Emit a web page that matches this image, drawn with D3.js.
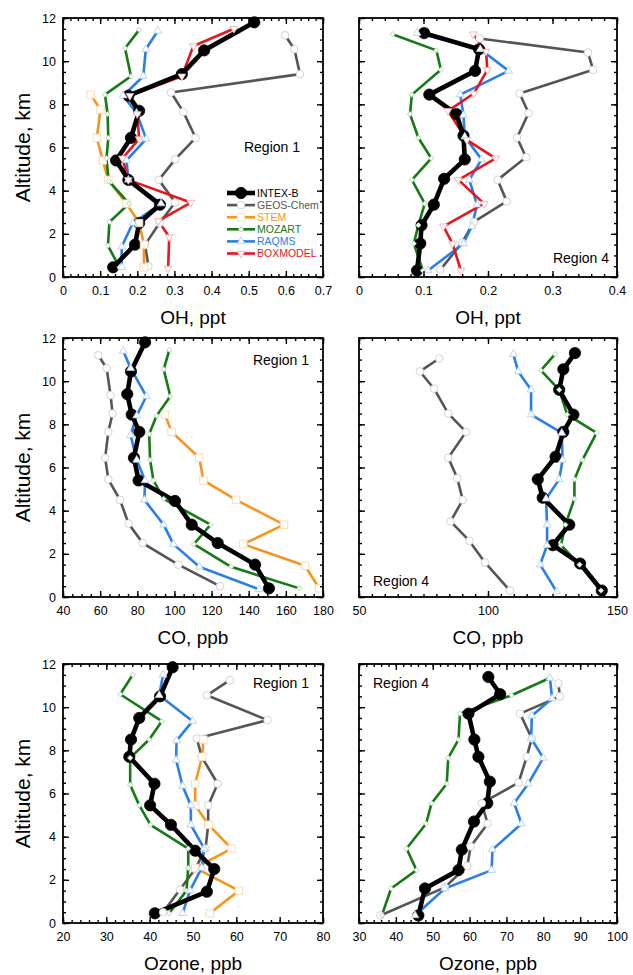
<!DOCTYPE html>
<html>
<head>
<meta charset="utf-8">
<script src="https://cdn.jsdelivr.net/npm/d3@7"></script>
<style>
  body { margin: 0; background: #fff; }
  svg { display: block; }
</style>
</head>
<body>
<svg id="chart" width="633" height="975"></svg>
<script>
'use strict';

// ---- data: [value, altitude km] pairs ----
var OH_R1_INTEXB = [[0.515,11.8],[0.38,10.5],[0.32,9.4],[0.176,8.4],[0.205,7.7],[0.183,6.45],[0.143,5.4],[0.176,4.5],[0.261,3.35],[0.205,2.5],[0.194,1.5],[0.135,0.45]];
var OH_R1_GEOS   = [[0.598,11.2],[0.623,10.55],[0.638,9.4],[0.291,8.55],[0.324,7.65],[0.357,6.45],[0.302,5.45],[0.258,4.5],[0.302,3.45],[0.26,2.5],[0.221,1.5],[0.23,0.5]];
var OH_R1_STEM   = [[0.0745,8.45],[0.101,7.75],[0.091,6.45],[0.107,5.4],[0.122,4.5],[0.171,3.4],[0.205,2.5],[0.218,1.5],[0.218,0.45]];
var OH_R1_MOZART = [[0.205,11.45],[0.167,10.6],[0.183,9.3],[0.113,8.45],[0.12,7.55],[0.122,6.45],[0.117,5.5],[0.123,4.45],[0.178,3.4],[0.125,2.55],[0.121,1.45],[0.152,0.45]];
var OH_R1_RAQMS  = [[0.255,11.4],[0.223,10.55],[0.216,9.3],[0.162,8.4],[0.198,7.6],[0.224,6.4],[0.171,5.4],[0.176,4.5],[0.264,3.4],[0.188,2.5],[0.158,1.4],[0.158,0.45]];
var OH_R1_BOX    = [[0.46,11.5],[0.351,10.7],[0.32,9.3],[0.18,8.4],[0.2,7.55],[0.205,6.4],[0.16,5.5],[0.176,4.5],[0.344,3.45],[0.257,2.6],[0.286,1.85],[0.283,0.4]];

var OH_R4_INTEXB = [[0.101,11.3],[0.186,10.55],[0.18,9.55],[0.109,8.45],[0.151,7.55],[0.162,6.55],[0.164,5.45],[0.132,4.55],[0.116,3.35],[0.097,2.4],[0.095,1.55],[0.09,0.3]];
var OH_R4_GEOS   = [[0.187,11.05],[0.355,10.4],[0.363,9.6],[0.249,8.5],[0.263,7.6],[0.245,6.45],[0.259,5.55],[0.215,4.5],[0.229,3.5],[0.178,2.55],[0.16,1.6],[0.126,0.33]];
var OH_R4_MOZART = [[0.052,11.25],[0.12,10.5],[0.127,9.6],[0.082,8.45],[0.079,7.55],[0.092,6.45],[0.112,5.5],[0.082,4.5],[0.102,3.4],[0.092,2.4],[0.085,1.55],[0.099,0.3]];
var OH_R4_RAQMS  = [[0.09,11.3],[0.188,10.55],[0.232,9.55],[0.157,8.45],[0.162,7.5],[0.164,6.5],[0.19,5.45],[0.171,4.5],[0.183,3.35],[0.175,2.35],[0.162,1.55],[0.107,0.3]];
var OH_R4_BOX    = [[0.177,11.25],[0.197,10.45],[0.199,9.6],[0.178,8.5],[0.138,7.7],[0.167,6.35],[0.212,5.5],[0.154,4.5],[0.194,3.4],[0.131,2.35],[0.145,1.55],[0.158,0.3]];

var CO_R1_INTEXB = [[84.2,11.8],[76.6,10.45],[74.6,9.4],[77,8.45],[81.1,7.65],[78.2,6.45],[80.7,5.4],[100.3,4.45],[109.3,3.35],[123.3,2.5],[143.4,1.5],[150.9,0.4]];
var CO_R1_GEOS   = [[59,11.2],[63.5,10.6],[65.6,9.35],[66.7,8.5],[64.4,7.65],[62.7,6.45],[64.4,5.45],[70.7,4.5],[75.3,3.4],[82.9,2.5],[102.1,1.5],[124.5,0.5]];
var CO_R1_STEM   = [[94.9,8.45],[98.5,7.65],[113.4,6.45],[115.6,5.4],[133.2,4.5],[159,3.35],[137.1,2.45],[170.3,1.45],[178,0.4]];
var CO_R1_MOZART = [[97.3,11.45],[94.2,10.55],[97.8,9.3],[90.4,8.4],[86.4,7.55],[86.9,6.35],[88.7,5.4],[94.2,4.55],[119.5,3.35],[110.5,2.45],[130.5,1.4],[167.3,0.4]];
var CO_R1_RAQMS  = [[72.5,11.4],[76.4,10.6],[84.9,9.3],[79.7,8.4],[76.4,7.5],[79.7,6.35],[84.2,5.4],[83.8,4.5],[94.2,3.35],[99.4,2.45],[113.4,1.4],[145.7,0.35]];

var CO_R4_INTEXB = [[133.7,11.3],[129.2,10.55],[127.6,9.6],[133.1,8.45],[129.2,7.65],[126.2,6.5],[119.3,5.45],[121.2,4.6],[131.5,3.35],[125.1,2.4],[135.7,1.55],[144.1,0.3]];
var CO_R4_GEOS   = [[81.1,11.05],[73.6,10.45],[79.1,9.65],[84.6,8.5],[91.5,7.65],[84.6,6.45],[88.1,5.5],[90.2,4.5],[85.5,3.5],[92.8,2.6],[98.8,1.6],[108.5,0.3]];
var CO_R4_MOZART = [[126,11.25],[120.5,10.5],[127.6,9.6],[130.7,8.45],[142.1,7.6],[136.6,6.35],[133.5,5.45],[133.5,4.55],[130,3.35],[128.3,2.4],[135.5,1.5],[143.8,0.3]];
var CO_R4_RAQMS  = [[109.8,11.25],[111.7,10.45],[116.7,9.6],[116.7,8.45],[128.6,7.6],[128.9,6.35],[127.6,5.45],[122.5,4.55],[122.9,3.35],[122.9,2.4],[120.2,1.5],[126.6,0.25]];

var O3_R1_INTEXB = [[45.3,11.85],[42.4,10.5],[37.6,9.5],[35.7,8.5],[35.3,7.7],[41.1,6.45],[40.1,5.45],[44.9,4.55],[50.5,3.35],[54.9,2.5],[53.2,1.45],[41.2,0.45]];
var O3_R1_GEOS   = [[58.5,11.25],[53.2,10.55],[67.2,9.4],[50.9,8.55],[52,7.7],[55.7,6.45],[53.5,5.45],[53.5,4.55],[52.9,3.45],[50.5,2.5],[47,1.55],[43.1,0.5]];
var O3_R1_STEM   = [[52.4,8.5],[52.1,7.7],[50.5,6.45],[50.5,5.45],[53.6,4.55],[58.9,3.45],[50.5,2.55],[60.6,1.5],[53.9,0.45]];
var O3_R1_MOZART = [[36.1,11.5],[33.2,10.6],[42.8,9.35],[39.9,8.5],[35.5,7.65],[35.5,6.4],[37.6,5.45],[40.2,4.55],[48.9,3.45],[48.9,2.55],[48.5,1.5],[44.5,0.45]];
var O3_R1_RAQMS  = [[43.1,11.5],[42.2,10.55],[49.9,9.35],[46.2,8.45],[46.1,7.55],[47.6,6.35],[49.5,5.45],[49.5,4.55],[52.6,3.45],[52,2.55],[49.3,1.5],[47.6,0.45]];

var O3_R4_INTEXB = [[65.1,11.4],[68.3,10.6],[59.7,9.7],[61.3,8.5],[62.4,7.7],[65.5,6.55],[64.8,5.55],[61.2,4.7],[57.9,3.4],[57,2.45],[47.9,1.6],[46.1,0.35]];
var O3_R4_GEOS   = [[84.1,11.1],[84.5,10.5],[73.7,9.7],[76.9,8.55],[75.5,7.7],[73.3,6.5],[63.3,5.55],[64.9,4.6],[60.3,3.55],[59.4,2.65],[53.3,1.65],[35.8,0.35]];
var O3_R4_MOZART = [[81.8,11.35],[71.4,10.55],[57.4,9.7],[57,8.5],[54.2,7.65],[53.8,6.45],[49.7,5.55],[48.2,4.6],[42.9,3.45],[45.6,2.45],[38.7,1.6],[36.2,0.35]];
var O3_R4_RAQMS  = [[81.8,11.35],[82.4,10.4],[76.9,9.6],[76.7,8.55],[80,7.65],[75.9,6.45],[72.1,5.55],[74.1,4.6],[66.2,3.4],[66,2.45],[53.3,1.6],[45.2,0.35]];

// tick labels
var ALT_TICKS   = [0, 2, 4, 6, 8, 10, 12];
var OH_R1_TICKS = [0, 0.1, 0.2, 0.3, 0.4, 0.5, 0.6, 0.7];
var OH_R4_TICKS = [0, 0.1, 0.2, 0.3, 0.4];
var CO_R1_TICKS = [40, 60, 80, 100, 120, 140, 160, 180];
var CO_R4_TICKS = [50, 100, 150];
var O3_R1_TICKS = [20, 30, 40, 50, 60, 70, 80];
var O3_R4_TICKS = [30, 40, 50, 60, 70, 80, 90, 100];

var MODEL_NAMES = ["INTEX-B", "GEOS-Chem", "STEM", "MOZART", "RAQMS", "BOXMODEL"];

// ---- styles ----
var FONT = "'Liberation Sans', Arial, Helvetica, sans-serif";
var STYLE = {
  "INTEX-B":   { color: "#000000", width: 4.6, sym: d3.symbolCircle,   size: 100, rot: 0,   fill: "#000000", mstroke: "#000000" },
  "GEOS-Chem": { color: "#555555", width: 2.6, sym: d3.symbolCircle,   size: 46,  rot: 0,   fill: "#ffffff", mstroke: "#c8c8c8" },
  "STEM":      { color: "#f7941d", width: 2.6, sym: d3.symbolSquare,   size: 56,  rot: 0,   fill: "#ffffff", mstroke: "#fbd3a8" },
  "MOZART":    { color: "#157a15", width: 2.6, sym: d3.symbolSquare,   size: 14,  rot: 45,  fill: "#ffffff", mstroke: "#a8d0a8" },
  "RAQMS":     { color: "#2a7ee6", width: 2.6, sym: d3.symbolTriangle, size: 26,  rot: 0,   fill: "#ffffff", mstroke: "#a9cbf3" },
  "BOXMODEL":  { color: "#e8161b", width: 2.6, sym: d3.symbolTriangle, size: 26,  rot: 180, fill: "#ffffff", mstroke: "#f5a3a5" }
};

var COLS = [[63, 323], [359, 617]];
var ROWS = [[18, 277], [338, 597], [664, 923]];

var panels = [
  { col: 0, row: 0, domain: [0, 0.7], ticks: OH_R1_TICKS, minor: 0.02, title: "OH, ppt",
    region: { text: "Region 1", x: -23, y: 134, anchor: "end" }, legend: true,
    series: { "INTEX-B": OH_R1_INTEXB, "GEOS-Chem": OH_R1_GEOS, "STEM": OH_R1_STEM, "MOZART": OH_R1_MOZART, "RAQMS": OH_R1_RAQMS, "BOXMODEL": OH_R1_BOX } },
  { col: 1, row: 0, domain: [0, 0.4], ticks: OH_R4_TICKS, minor: 0.02, title: "OH, ppt",
    region: { text: "Region 4", x: -8, y: 245, anchor: "end" },
    series: { "INTEX-B": OH_R4_INTEXB, "GEOS-Chem": OH_R4_GEOS, "MOZART": OH_R4_MOZART, "RAQMS": OH_R4_RAQMS, "BOXMODEL": OH_R4_BOX } },
  { col: 0, row: 1, domain: [40, 180], ticks: CO_R1_TICKS, minor: 5, title: "CO, ppb",
    region: { text: "Region 1", x: -14, y: 27, anchor: "end" },
    series: { "INTEX-B": CO_R1_INTEXB, "GEOS-Chem": CO_R1_GEOS, "STEM": CO_R1_STEM, "MOZART": CO_R1_MOZART, "RAQMS": CO_R1_RAQMS } },
  { col: 1, row: 1, domain: [50, 150], ticks: CO_R4_TICKS, minor: 5, title: "CO, ppb",
    region: { text: "Region 4", x: 14, y: 248, anchor: "start" },
    series: { "INTEX-B": CO_R4_INTEXB, "GEOS-Chem": CO_R4_GEOS, "MOZART": CO_R4_MOZART, "RAQMS": CO_R4_RAQMS } },
  { col: 0, row: 2, domain: [20, 80], ticks: O3_R1_TICKS, minor: 2, title: "Ozone, ppb",
    region: { text: "Region 1", x: -14, y: 24, anchor: "end" },
    series: { "INTEX-B": O3_R1_INTEXB, "GEOS-Chem": O3_R1_GEOS, "STEM": O3_R1_STEM, "MOZART": O3_R1_MOZART, "RAQMS": O3_R1_RAQMS } },
  { col: 1, row: 2, domain: [30, 100], ticks: O3_R4_TICKS, minor: 2, title: "Ozone, ppb",
    region: { text: "Region 4", x: 14, y: 24, anchor: "start" },
    series: { "INTEX-B": O3_R4_INTEXB, "GEOS-Chem": O3_R4_GEOS, "MOZART": O3_R4_MOZART, "RAQMS": O3_R4_RAQMS } }
];

var svg = d3.select("#chart");
svg.append("rect").attr("width", 633).attr("height", 975).attr("fill", "#fff");

function steps(domain, step) {
  var n = Math.round((domain[1] - domain[0]) / step);
  return d3.range(n + 1).map(function(i) { return +(domain[0] + i * step).toFixed(6); });
}

function fmtTick(d) {
  return d === 0 ? "0" : (Math.abs(d) < 1 ? d.toFixed(1) : String(d));
}

function marker(g, data, name, x, y) {
  var st = STYLE[name];
  g.selectAll(null)
    .data(data)
    .enter().append("path")
      .attr("d", d3.symbol().type(st.sym).size(st.size))
      .attr("transform", function(d) { return "translate(" + x(d[0]) + "," + y(d[1]) + ") rotate(" + st.rot + ")"; })
      .attr("fill", st.fill)
      .attr("stroke", st.mstroke)
      .attr("stroke-width", 0.8);
}

function styleAxis(sel) {
  sel.select(".domain").remove();
  sel.selectAll(".tick line").attr("stroke", "#000").attr("stroke-width", 1.4);
  sel.attr("font-family", FONT).attr("font-size", 12.5);
  sel.selectAll("text").attr("fill", "#000");
}

panels.forEach(function(p) {
  var x0 = COLS[p.col][0], x1 = COLS[p.col][1];
  var y0 = ROWS[p.row][0], y1 = ROWS[p.row][1];

  var x = d3.scaleLinear().domain(p.domain).range([x0, x1]);
  var y = d3.scaleLinear().domain([0, 12]).range([y1, y0]);

  var g = svg.append("g");

  // data lines, INTEX-B on top
  var line = d3.line().x(function(d) { return x(d[0]); }).y(function(d) { return y(d[1]); });
  var names = MODEL_NAMES.filter(function(n) { return p.series[n]; });
  var order = names.slice(1).concat([names[0]]);
  order.forEach(function(n) {
    g.append("path")
      .datum(p.series[n])
      .attr("d", line)
      .attr("fill", "none")
      .attr("stroke", STYLE[n].color)
      .attr("stroke-width", STYLE[n].width)
      .attr("stroke-linejoin", "round");
  });
  marker(g, p.series[names[0]], names[0], x, y);
  names.slice(1).forEach(function(n) { marker(g, p.series[n], n, x, y); });

  // axes with inward ticks on all four sides
  var xMinor = steps(p.domain, p.minor);
  var yMinor = steps([0, 12], 0.5);

  g.append("g").attr("transform", "translate(0," + y1 + ")")
    .call(d3.axisBottom(x).tickValues(xMinor).tickSizeInner(-3).tickSizeOuter(0).tickFormat(""))
    .call(styleAxis);
  g.append("g").attr("transform", "translate(0," + y1 + ")")
    .call(d3.axisBottom(x).tickValues(p.ticks).tickSizeInner(-6).tickSizeOuter(0).tickPadding(9).tickFormat(fmtTick))
    .call(styleAxis);
  g.append("g").attr("transform", "translate(0," + y0 + ")")
    .call(d3.axisTop(x).tickValues(xMinor).tickSizeInner(-3).tickSizeOuter(0).tickFormat(""))
    .call(styleAxis);
  g.append("g").attr("transform", "translate(0," + y0 + ")")
    .call(d3.axisTop(x).tickValues(p.ticks).tickSizeInner(-6).tickSizeOuter(0).tickFormat(""))
    .call(styleAxis);

  g.append("g").attr("transform", "translate(" + x0 + ",0)")
    .call(d3.axisLeft(y).tickValues(yMinor).tickSizeInner(-3).tickSizeOuter(0).tickFormat(""))
    .call(styleAxis);
  g.append("g").attr("transform", "translate(" + x0 + ",0)")
    .call(d3.axisLeft(y).tickValues(ALT_TICKS).tickSizeInner(-6).tickSizeOuter(0).tickPadding(7)
      .tickFormat(p.col === 0 ? d3.format("d") : ""))
    .call(styleAxis);
  g.append("g").attr("transform", "translate(" + x1 + ",0)")
    .call(d3.axisRight(y).tickValues(yMinor).tickSizeInner(-3).tickSizeOuter(0).tickFormat(""))
    .call(styleAxis);
  g.append("g").attr("transform", "translate(" + x1 + ",0)")
    .call(d3.axisRight(y).tickValues(ALT_TICKS).tickSizeInner(-6).tickSizeOuter(0).tickFormat(""))
    .call(styleAxis);

  g.append("rect")
    .attr("x", x0).attr("y", y0)
    .attr("width", x1 - x0).attr("height", y1 - y0)
    .attr("fill", "none").attr("stroke", "#000").attr("stroke-width", 1.8);

  // titles
  g.append("text")
    .attr("x", (x0 + x1) / 2).attr("y", y1 + 47)
    .attr("text-anchor", "middle")
    .attr("font-family", FONT).attr("font-size", 19)
    .text(p.title);

  if (p.col === 0) {
    g.append("text")
      .attr("transform", "translate(30," + (y0 + y1) / 2 + ") rotate(-90)")
      .attr("text-anchor", "middle")
      .attr("font-family", FONT).attr("font-size", 21)
      .text("Altitude, km");
  }

  var rx = p.region.anchor === "end" ? x1 + p.region.x : x0 + p.region.x;
  g.append("text")
    .attr("x", rx).attr("y", y0 + p.region.y)
    .attr("text-anchor", p.region.anchor)
    .attr("font-family", FONT).attr("font-size", 14)
    .text(p.region.text);

  if (p.legend) {
    var lg = g.append("g").attr("transform", "translate(" + (x0 + 164) + "," + (y0 + 175) + ")");
    MODEL_NAMES.forEach(function(n, i) {
      var st = STYLE[n];
      var row = lg.append("g").attr("transform", "translate(0," + (i * 12.1) + ")");
      row.append("line")
        .attr("x1", 0).attr("x2", 28).attr("y1", 0).attr("y2", 0)
        .attr("stroke", st.color).attr("stroke-width", st.width);
      row.append("path")
        .attr("d", d3.symbol().type(st.sym).size(st.size))
        .attr("transform", "translate(14,0) rotate(" + st.rot + ")")
        .attr("fill", st.fill).attr("stroke", st.mstroke).attr("stroke-width", 0.8);
      row.append("text")
        .attr("x", 30).attr("y", 0).attr("dy", "0.35em")
        .attr("font-family", FONT).attr("font-size", 10.5)
        .attr("fill", n === "INTEX-B" ? "#000" : st.color)
        .text(n);
    });
  }
});
</script>
</body>
</html>
